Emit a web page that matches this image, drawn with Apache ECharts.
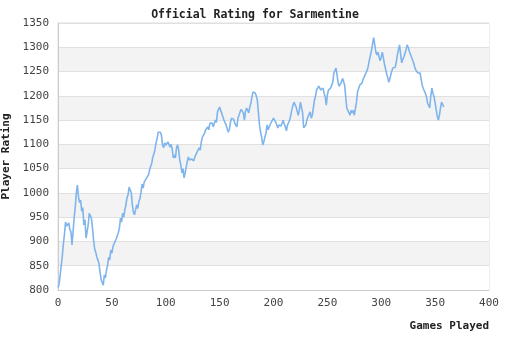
<!DOCTYPE html>
<html>
<head>
<meta charset="utf-8">
<script src="https://cdn.jsdelivr.net/npm/echarts@6/dist/echarts.min.js"></script>
<style>html,body{margin:0;padding:0;background:#fff}#c{width:510px;height:340px}</style>
</head>
<body>
<div id="c"></div>
<script>
const titleText = "Official Rating for Sarmentine";
const xAxisName = "Games Played";
const yAxisName = "Player Rating";
const xTicks = [0, 50, 100, 150, 200, 250, 300, 350, 400];
const yTicks = [800, 850, 900, 950, 1000, 1050, 1100, 1150, 1200, 1250, 1300, 1350];
const ratings = [
805,812,830,851,870,895,915,940,932,928,938,925,920,893,920,950,970,1000,1016,992,
980,985,962,970,934,945,907,920,934,958,955,948,928,903,885,878,868,862,855,837,
822,815,810,831,825,841,850,868,862,882,876,889,895,899,905,909,918,928,948,940,
958,950,965,975,990,996,1012,1016,1000,975,960,955,965,975,968,982,988,1000,1018,1010,
1022,1025,1030,1028,1037,1047,1055,1061,1074,1080,1090,1103,1112,1125,1128,1125,1119,1099,1093,1103,
1098,1099,1105,1100,1094,1100,1090,1072,1078,1072,1093,1099,1088,1068,1057,1041,1050,1031,1041,1053,
1065,1074,1068,1064,1070,1072,1066,1074,1070,1084,1088,1093,1088,1105,1115,1118,1123,1130,1128,1136,
1130,1144,1140,1144,1136,1140,1150,1145,1167,1172,1177,1170,1172,1157,1150,1146,1140,1136,1125,1130,
1145,1154,1158,1152,1144,1140,1136,1154,1160,1167,1172,1175,1165,1150,1168,1175,1170,1165,1177,1185,
1198,1208,1205,1206,1200,1191,1165,1140,1125,1115,1099,1105,1115,1123,1140,1130,1136,1132,1146,1150,
1154,1150,1146,1146,1134,1140,1144,1138,1136,1150,1142,1136,1128,1140,1145,1150,1160,1171,1180,1187,
1182,1177,1168,1160,1171,1187,1176,1165,1134,1138,1140,1150,1157,1162,1167,1154,1160,1175,1191,1200,
1212,1216,1220,1222,1212,1208,1216,1205,1198,1181,1202,1212,1210,1216,1222,1228,1247,1252,1257,1243,
1226,1220,1216,1228,1236,1230,1222,1198,1175,1170,1167,1160,1170,1165,1170,1160,1157,1187,1208,1215,
1222,1218,1226,1233,1238,1243,1248,1253,1262,1274,1284,1294,1308,1320,1305,1290,1284,1290,1280,1272,
1280,1290,1278,1265,1255,1245,1238,1228,1235,1245,1252,1258,1262,1259,1270,1285,1295,1305,1285,1268,
1275,1280,1284,1295,1305,1300,1292,1288,1280,1283,1268,1260,1253,1250,1247,1250,1247,1235,1222,1215,
1210,1205,1198,1185,1180,1175,1200,1216,1205,1198,1185,1171,1158,1150,1160,1175,1187,1191,1177
];
const seriesData = ratings.map((v, i) => [i, v]);
const mono = "'DejaVu Sans Mono', monospace";

const chart = echarts.init(document.getElementById('c'), null, {renderer: 'canvas'});
chart.setOption({
  animation: false,
  backgroundColor: '#ffffff',
  title: {
    text: titleText,
    left: 'center',
    top: 4,
    textStyle: {fontFamily: mono, fontSize: 11.5, fontWeight: 'bold', color: '#222'}
  },
  grid: {left: 58, right: 21, top: 23, bottom: 50, containLabel: false, outerBoundsMode: 'none', show: true, borderColor: '#dcdcdc', borderWidth: 1, backgroundColor: 'transparent'},
  xAxis: {
    type: 'value',
    min: xTicks[0], max: xTicks[xTicks.length - 1], interval: 50,
    name: xAxisName, nameLocation: 'end', nameGap: 0,
    nameTextStyle: {fontFamily: mono, fontSize: 11, fontWeight: 'bold', color: '#222', align: 'right', verticalAlign: 'top', padding: [31, 0, 0, 0]},
    axisLine: {show: true, lineStyle: {color: '#cccccc'}},
    axisTick: {show: false},
    axisLabel: {fontFamily: mono, fontSize: 11, color: '#444', margin: 8, formatter: v => String(v)},
    splitLine: {show: false}
  },
  yAxis: {
    type: 'value',
    min: yTicks[0], max: yTicks[yTicks.length - 1], interval: 50,
    name: yAxisName, nameLocation: 'middle', nameGap: 43,
    nameTextStyle: {fontFamily: mono, fontSize: 11, fontWeight: 'bold', color: '#222'},
    axisLine: {show: true, lineStyle: {color: '#cccccc'}},
    axisTick: {show: false},
    axisLabel: {fontFamily: mono, fontSize: 11, color: '#444', margin: 9, formatter: v => String(v)},
    splitLine: {show: true, lineStyle: {color: '#e0e0e0'}},
    splitArea: {show: true, areaStyle: {color: ['#ffffff', '#f3f3f3']}}
  },
  series: [{
    type: 'line',
    data: seriesData,
    showSymbol: false,
    lineStyle: {color: '#7fb5ec', width: 1.6},
    itemStyle: {color: '#7fb5ec'}
  }]
});
</script>
</body>
</html>
